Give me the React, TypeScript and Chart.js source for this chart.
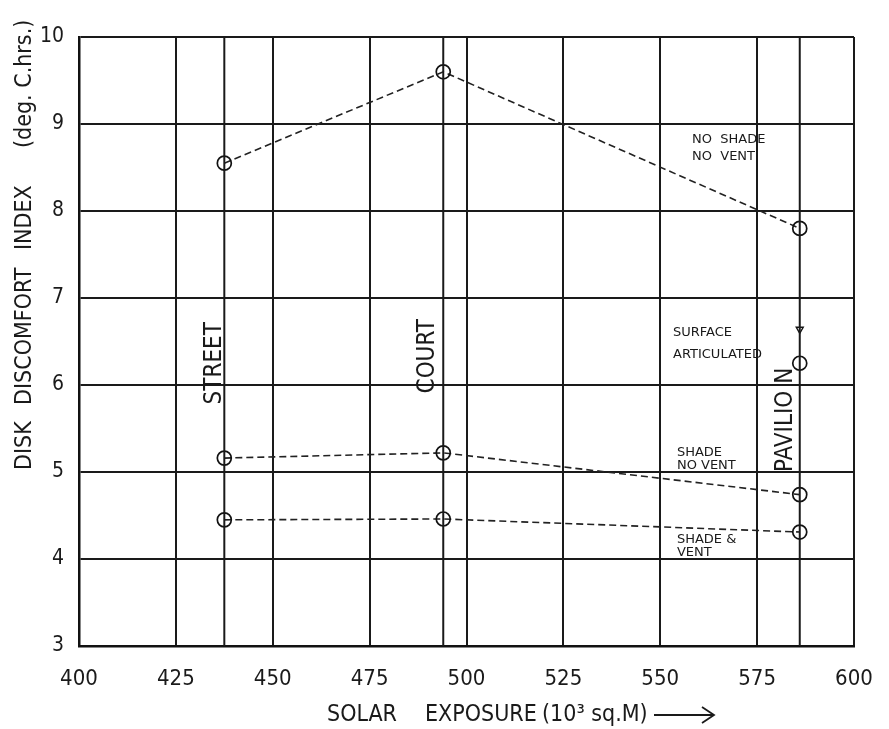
import React, { useEffect, useRef } from "react";
import { Chart, registerables } from "chart.js";

Chart.register(...registerables);

// ---- data ----
const xTickValues = [400, 425, 450, 475, 500, 525, 550, 575, 600];
const yTickValues = [3, 4, 5, 6, 7, 8, 9, 10];
const siteNames = ["STREET", "COURT", "PAVILIO N"];
const siteX = [437.5, 494, 586];
const noShadeNoVent = [8.55, 9.6, 7.8];
const shadeNoVent = [5.16, 5.22, 4.74];
const shadeAndVent = [4.45, 4.46, 4.31];
const surfaceArticulated = [6.25];
const surfaceArticulatedMark = [6.64];
const curveLabels = [
  { lines: ["NO  SHADE", "NO  VENT"], x: 558.2, y: [8.82, 8.62] },
  { lines: ["SURFACE", "ARTICULATED"], x: 553.3, y: [6.6, 6.345] },
  { lines: ["SHADE", "NO VENT"], x: 554.3, y: [5.22, 5.07] },
  { lines: ["SHADE &", "VENT"], x: 554.3, y: [4.22, 4.07] },
];
const siteLabelPos = [
  { x: 435, y: 6.25 },
  { x: 490, y: 6.33 },
  { x: 582.5, y: 5.6 },
];
const yTitleParts = [
  { text: "DISK", from: 470 },
  { text: "DISCOMFORT", from: 405 },
  { text: "INDEX", from: 250 },
  { text: "(deg. C.hrs.)", from: 148 },
];
const xTitleParts = [
  { text: "SOLAR", from: 327 },
  { text: "EXPOSURE", from: 425 },
  { text: "(10³ sq.M)", from: 542 },
];

const FONT = "'DejaVu Sans Condensed','Liberation Sans Narrow','DejaVu Sans',sans-serif";
const SMALL_FONT = "'DejaVu Sans',sans-serif";
const INK = "#1a1a1a";

const textPlugin = {
  id: "textPlugin",
  afterDraw(chart: any) {
    const ctx = chart.ctx;
    const xs = chart.scales.x;
    const ys = chart.scales.y;
    ctx.save();
    ctx.fillStyle = INK;
    // curve labels
    ctx.font = `13px ${SMALL_FONT}`;
    ctx.textAlign = "left";
    ctx.textBaseline = "middle";
    curveLabels.forEach((c) => {
      c.lines.forEach((t, i) => {
        ctx.fillText(t, xs.getPixelForValue(c.x), ys.getPixelForValue(c.y[i]));
      });
    });
    // site labels (rotated)
    ctx.font = `24px ${FONT}`;
    ctx.textAlign = "center";
    siteNames.forEach((n, i) => {
      ctx.save();
      ctx.translate(xs.getPixelForValue(siteLabelPos[i].x), ys.getPixelForValue(siteLabelPos[i].y));
      ctx.rotate(-Math.PI / 2);
      ctx.fillText(n, 0, 0);
      ctx.restore();
    });
    // y axis title
    ctx.font = `23px ${FONT}`;
    ctx.textAlign = "left";
    yTitleParts.forEach((p) => {
      ctx.save();
      ctx.translate(25, p.from);
      ctx.rotate(-Math.PI / 2);
      ctx.fillText(p.text, 0, 0);
      ctx.restore();
    });
    // x axis title
    const ty = 715;
    xTitleParts.forEach((p) => ctx.fillText(p.text, p.from, ty));
    const ax = 654;
    ctx.strokeStyle = INK;
    ctx.lineWidth = 1.8;
    ctx.beginPath();
    ctx.moveTo(ax, ty);
    ctx.lineTo(ax + 60, ty);
    ctx.moveTo(ax + 48, ty - 8);
    ctx.lineTo(ax + 60, ty);
    ctx.lineTo(ax + 48, ty + 8);
    ctx.stroke();
    ctx.restore();
  },
};

function seriesData(vals: number[]) {
  return vals.map((v, i) => ({ x: siteX[i], y: v }));
}

export default function App() {
  const ref = useRef<HTMLCanvasElement | null>(null);
  useEffect(() => {
    if (!ref.current) return;
    const seriesStyle = {
      type: "line" as const,
      showLine: true,
      borderColor: "#222",
      borderWidth: 1.6,
      borderDash: [7, 4],
      pointStyle: "circle",
      pointRadius: 7,
      pointBorderWidth: 1.7,
      pointBorderColor: "#111",
      pointBackgroundColor: "rgba(0,0,0,0)",
    };
    const siteLines = siteX.map((x) => ({
      type: "line" as const,
      label: "site",
      data: [
        { x, y: yTickValues[0] },
        { x, y: yTickValues[yTickValues.length - 1] },
      ],
      borderColor: INK,
      borderWidth: 2,
      pointRadius: 0,
    }));
    const chart = new Chart(ref.current, {
      type: "scatter",
      data: {
        datasets: [
          ...siteLines,
          { ...seriesStyle, label: "No shade no vent", data: seriesData(noShadeNoVent) },
          { ...seriesStyle, label: "Shade no vent", data: seriesData(shadeNoVent) },
          { ...seriesStyle, label: "Shade & vent", data: seriesData(shadeAndVent) },
          {
            ...seriesStyle,
            showLine: false,
            label: "Surface articulated",
            data: surfaceArticulated.map((v) => ({ x: siteX[2], y: v })),
          },
          {
            type: "scatter" as const,
            label: "Surface articulated mark",
            data: surfaceArticulatedMark.map((v) => ({ x: siteX[2], y: v })),
            pointStyle: "triangle",
            rotation: 180,
            pointRadius: 4,
            pointBorderWidth: 1.4,
            pointBorderColor: "#111",
            pointBackgroundColor: "rgba(0,0,0,0)",
          },
        ] as any,
      },
      options: {
        animation: false,
        responsive: false,
        layout: { padding: { top: 37, right: 35, left: 0, bottom: 0 } },
        plugins: { legend: { display: false }, tooltip: { enabled: false }, title: { display: false } },
        scales: {
          x: {
            type: "linear",
            min: xTickValues[0],
            max: xTickValues[xTickValues.length - 1],
            afterBuildTicks: (s: any) => {
              s.ticks = xTickValues.map((v) => ({ value: v }));
            },
            afterFit: (s: any) => {
              s.height = 83;
              s.paddingLeft = 0;
              s.paddingRight = 0;
            },
            grid: { color: INK, lineWidth: 2, drawTicks: false },
            border: { display: true, color: "#111", width: 2.5 },
            ticks: {
              padding: 20,
              color: INK,
              font: { family: FONT, size: 22 },
              maxRotation: 0,
              autoSkip: false,
              callback: (v: any) => String(v),
            },
          },
          y: {
            type: "linear",
            min: yTickValues[0],
            max: yTickValues[yTickValues.length - 1],
            afterBuildTicks: (s: any) => {
              s.ticks = yTickValues.map((v) => ({ value: v }));
            },
            afterFit: (s: any) => {
              s.width = 79;
              s.paddingTop = 0;
              s.paddingBottom = 0;
            },
            grid: { color: INK, lineWidth: 2, drawTicks: false },
            border: { display: true, color: "#111", width: 2.5 },
            ticks: {
              padding: 15,
              color: INK,
              font: { family: FONT, size: 21 },
              callback: (v: any) => String(v),
            },
          },
        },
      },
      plugins: [textPlugin],
    });
    return () => chart.destroy();
  }, []);
  return (
    <div style={{ position: "absolute", left: 0, top: 0, width: 889, height: 729, background: "#fff" }}>
      <canvas ref={ref} width={889} height={729} style={{ display: "block" }} />
    </div>
  );
}
